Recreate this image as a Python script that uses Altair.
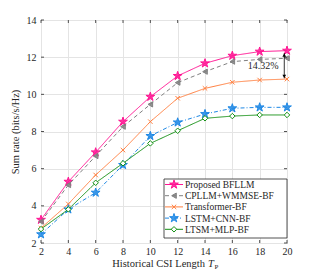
import altair as alt
import pandas as pd

# ---------------- data ----------------
x_vals = [2, 4, 6, 8, 10, 12, 14, 16, 18, 20]
proposed = [3.25, 5.30, 6.88, 8.53, 9.87, 10.99, 11.67, 12.08, 12.30, 12.35]
cpllm = [3.15, 5.12, 6.68, 8.26, 9.46, 10.63, 11.22, 11.76, 11.88, 11.94]
transformer = [2.80, 4.10, 5.66, 7.00, 8.53, 9.79, 10.32, 10.65, 10.77, 10.82]
lstm_cnn = [2.47, 3.81, 4.71, 6.20, 7.76, 8.49, 8.94, 9.25, 9.30, 9.30]
ltsm_mlp = [2.75, 3.81, 5.24, 6.29, 7.36, 8.04, 8.71, 8.83, 8.89, 8.89]

series_names = ["Proposed BFLLM", "CPLLM+WMMSE-BF", "Transformer-BF",
                "LSTM+CNN-BF", "LTSM+MLP-BF"]
series_values = [proposed, cpllm, transformer, lstm_cnn, ltsm_mlp]

x_ticks = [2, 4, 6, 8, 10, 12, 14, 16, 18, 20]
y_ticks = [2, 4, 6, 8, 10, 12, 14]

y_title = "Sum rate (bits/s/Hz)"
x_title = "Historical CSI Length"
x_title_var = "T"
x_title_sub = "P"

gain_label = "14.32%"
gain_text_pos = [18.25, 11.5]
arrow_x = 19.8
arrow_ends = [12.22, 10.86]

# ---------------- styling ----------------
W, H = 246, 223
FONT = "Liberation Serif"
AX = "#262626"
STAR = ("M0,-1L0.223,-0.307L0.951,-0.309L0.361,0.117L0.588,0.809L0,0.38"
        "L-0.588,0.809L-0.361,0.117L-0.951,-0.309L-0.223,-0.307Z")
XSHAPE = "M-1,-1L1,1M-1,1L1,-1"

styles = [
    dict(color="#ff1493", dash=[1, 0], shape=STAR, size=85, fill="#ff1493", filled=True),
    dict(color="#808080", dash=[4, 3], shape="triangle-left", size=28, fill="#808080", filled=True),
    dict(color="#ff7f3f", dash=[1, 0], shape=XSHAPE, size=20, fill=None, filled=False),
    dict(color="#1e88e5", dash=[4, 2, 1, 2], shape=STAR, size=85, fill="#1e88e5", filled=True),
    dict(color="#139013", dash=[1, 0], shape="diamond", size=30, fill="white", filled=True),
]

xscale = alt.Scale(domain=[2, 20], nice=False, zero=False)
yscale = alt.Scale(domain=[2, 14], nice=False, zero=False)

X = alt.X("x:Q", scale=xscale,
          axis=alt.Axis(values=x_ticks, title=None, ticks=False, tickSize=0,
                        domain=False, labelPadding=3, labelFont=FONT,
                        labelFontSize=10, labelColor=AX, grid=True,
                        gridColor="#e4e4e4", labelFlush=False))
Y = alt.Y("y:Q", scale=yscale,
          axis=alt.Axis(values=y_ticks, title=y_title, ticks=False, tickSize=0,
                        domain=False, labelPadding=5, labelFont=FONT,
                        labelFontSize=10, labelColor=AX, grid=True,
                        gridColor="#e4e4e4", titleFont=FONT, titleFontSize=10.5,
                        titleFontWeight="normal", titleColor=AX, titlePadding=6,
                        labelFlush=False))


def point_kw(st):
    kw = dict(shape=st["shape"], size=st["size"], stroke=st["color"],
              strokeWidth=1, opacity=1)
    if st["filled"]:
        kw.update(filled=True, fill=st["fill"],
                  fillOpacity=0.85 if st["fill"] != "white" else 1)
    else:
        kw.update(filled=False)
    return kw


layers = []

# series
for name, vals, st in zip(series_names, series_values, styles):
    df = pd.DataFrame({"x": x_vals, "y": vals, "s": name})
    layers.append(alt.Chart(df).mark_line(
        color=st["color"], strokeWidth=1, strokeDash=st["dash"]).encode(x=X, y=Y))
    layers.append(alt.Chart(df).mark_point(**point_kw(st)).encode(x=X, y=Y))

# inward ticks on all four sides
tx = pd.DataFrame({"x": x_ticks})
ty = pd.DataFrame({"y": y_ticks})
layers.append(alt.Chart(tx).mark_rule(color=AX, strokeWidth=0.8).encode(
    x=X, y=alt.value(H), y2=alt.value(H - 3)))
layers.append(alt.Chart(tx).mark_rule(color=AX, strokeWidth=0.8).encode(
    x=X, y=alt.value(0), y2=alt.value(3)))
layers.append(alt.Chart(ty).mark_rule(color=AX, strokeWidth=0.8).encode(
    y=Y, x=alt.value(0), x2=alt.value(3)))
layers.append(alt.Chart(ty).mark_rule(color=AX, strokeWidth=0.8).encode(
    y=Y, x=alt.value(W), x2=alt.value(W - 3)))

# gain annotation
adf = pd.DataFrame({"x": [arrow_x, arrow_x], "y": arrow_ends})
layers.append(alt.Chart(adf).mark_line(color="black", strokeWidth=0.8).encode(
    x=X, y=Y))
layers.append(alt.Chart(adf.iloc[[0]]).mark_point(
    shape="triangle-up", size=14, filled=True, color="black", opacity=1,
    yOffset=2).encode(x=X, y=Y))
layers.append(alt.Chart(adf.iloc[[1]]).mark_point(
    shape="triangle-down", size=14, filled=True, color="black", opacity=1,
    yOffset=-2).encode(x=X, y=Y))
gdf = pd.DataFrame({"x": [gain_text_pos[0]], "y": [gain_text_pos[1]], "t": [gain_label]})
layers.append(alt.Chart(gdf).mark_text(font=FONT, fontSize=10, color=AX).encode(
    x=X, y=Y, text="t:N"))

# legend box
LX0, LX1, LY0, LY1 = 123, W, 159, 218
layers.append(alt.Chart(pd.DataFrame({"a": [0]})).mark_rect(
    fill="white", stroke=AX, strokeWidth=0.8).encode(
    x=alt.value(LX0), x2=alt.value(LX1), y=alt.value(LY0), y2=alt.value(LY1)))
for i, (name, st) in enumerate(zip(series_names, styles)):
    ly = 164.5 + 11.2 * i
    ldf = pd.DataFrame({"name": [name]})
    layers.append(alt.Chart(ldf).mark_rule(
        color=st["color"], strokeWidth=1, strokeDash=st["dash"]).encode(
        x=alt.value(124), x2=alt.value(142), y=alt.value(ly)))
    layers.append(alt.Chart(ldf).mark_point(**point_kw(st)).encode(
        x=alt.value(133), y=alt.value(ly)))
    layers.append(alt.Chart(ldf).mark_text(
        font=FONT, fontSize=9.5, color=AX, align="left", baseline="middle").encode(
        x=alt.value(144), y=alt.value(ly + 0.5), text="name:N"))

# x-axis title with italic T and subscript P
tdf = pd.DataFrame({"a": [x_title], "b": [x_title_var], "c": [x_title_sub]})
layers.append(alt.Chart(tdf).mark_text(
    font=FONT, fontSize=10.5, color=AX, align="right", baseline="alphabetic").encode(
    x=alt.value(164), y=alt.value(H + 24), text="a:N"))
layers.append(alt.Chart(tdf).mark_text(
    font=FONT, fontSize=10.5, fontStyle="italic", color=AX, align="left",
    baseline="alphabetic").encode(x=alt.value(167), y=alt.value(H + 24), text="b:N"))
layers.append(alt.Chart(tdf).mark_text(
    font=FONT, fontSize=7, color=AX, align="left", baseline="alphabetic").encode(
    x=alt.value(173.5), y=alt.value(H + 25.5), text="c:N"))

chart = alt.layer(*layers).properties(
    width=W, height=H,
    autosize=alt.AutoSizeParams(type="none"),
    padding={"left": 33, "top": 12, "right": 22, "bottom": 30},
).configure_view(stroke=AX, strokeWidth=1)

chart.save("out.html", embed_options={"renderer": "svg", "actions": False})
